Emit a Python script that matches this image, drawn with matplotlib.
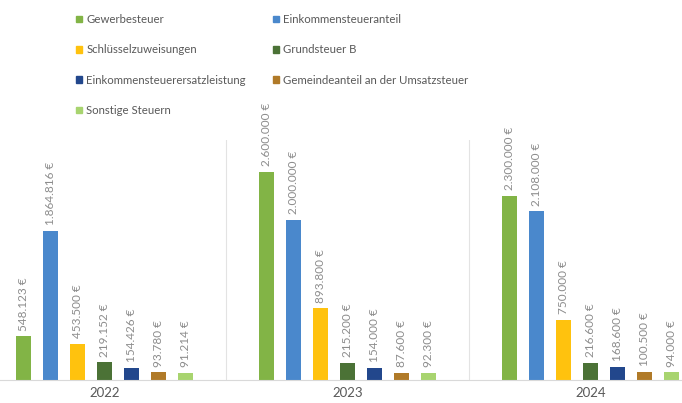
import matplotlib.pyplot as plt
from matplotlib.patches import Patch

plt.rcParams['font.family'] = ['Lato', 'DejaVu Sans']

# data
years = ['2022', '2023', '2024']
series = ['Gewerbesteuer', 'Einkommensteueranteil', 'Schlüsselzuweisungen',
          'Grundsteuer B', 'Einkommensteuerersatzleistung',
          'Gemeindeanteil an der Umsatzsteuer', 'Sonstige Steuern']
gewerbe = [548123, 2600000, 2300000]
einkommen = [1864816, 2000000, 2108000]
schluessel = [453500, 893800, 750000]
grundsteuer = [219152, 215200, 216600]
ersatz = [154426, 154000, 168600]
umsatz = [93780, 87600, 100500]
sonstige = [91214, 92300, 94000]
values = [gewerbe, einkommen, schluessel, grundsteuer, ersatz, umsatz, sonstige]
colors = ['#82B446', '#4A88CC', '#FFC20E', '#4B7236', '#22478C', '#B07A28', '#A8D46F']


def fmt(v):
    return f"{v:,}".replace(',', '.') + ' €'


fig = plt.figure(figsize=(6.82, 4.03), dpi=100)
# plot area is wider than the picture (cropped at both sides)
ax = fig.add_axes([-17 / 682, 23 / 403, 729 / 682, 240 / 403])

step = 27 / 243
width = 15 / 243
for j, (name, vals, c) in enumerate(zip(series, values, colors)):
    xs = [i + (j - 3) * step for i in range(len(years))]
    ax.bar(xs, vals, width=width, color=c, label=name)
    for x, v in zip(xs, vals):
        ax.annotate(fmt(v), (x, v), xytext=(0, 4), textcoords='offset points',
                    rotation=90, ha='center', va='bottom', fontsize=8.5,
                    color='#8C8C8C', annotation_clip=False)

ax.set_xlim(-0.5, 2.5)
ax.set_ylim(0, 3000000)
for xv in [0.5, 1.5]:
    ax.axvline(xv, color='#E3E3E3', lw=0.8)

ax.set_xticks(range(len(years)))
ax.set_xticklabels(years, fontsize=9.5, color='#595959')
ax.tick_params(axis='x', length=0, pad=5)
ax.set_yticks([])
for s in ['top', 'left', 'right']:
    ax.spines[s].set_visible(False)
ax.spines['bottom'].set_color('#D9D9D9')
ax.spines['bottom'].set_linewidth(0.8)

# legend filled row by row like the original
order = [0, 2, 4, 6, 1, 3, 5]
handles = [Patch(color=colors[k]) for k in order]
labels = [series[k] for k in order]
fig.legend(handles, labels, ncol=2, loc='upper left',
           bbox_to_anchor=(76 / 682, 1 - 14 / 403), frameon=False,
           fontsize=8.2, labelcolor='#595959', handlelength=0.55,
           handleheight=0.55, handletextpad=0.35, labelspacing=1.7,
           columnspacing=2.4, borderpad=0, borderaxespad=0)

fig.savefig('out.png', dpi=100)
